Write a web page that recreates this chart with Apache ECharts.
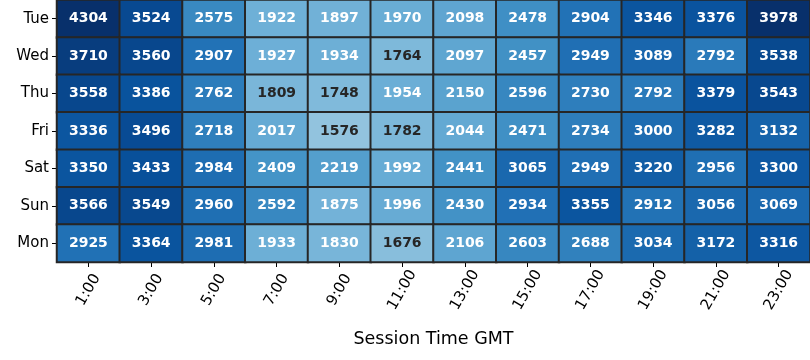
<!DOCTYPE html>
<html><head><meta charset="utf-8">
<script src="https://cdn.jsdelivr.net/npm/echarts@6/dist/echarts.min.js"></script>
<style>html,body{margin:0;padding:0;background:#fff}#c{width:810px;height:360px}</style>
</head><body><div id="c"></div>
<script>
const hours = ["1:00","3:00","5:00","7:00","9:00","11:00","13:00","15:00","17:00","19:00","21:00","23:00"];
const days = ["Tue","Wed","Thu","Fri","Sat","Sun","Mon"];
const tue = [4304,3524,2575,1922,1897,1970,2098,2478,2904,3346,3376,3978];
const wed = [3710,3560,2907,1927,1934,1764,2097,2457,2949,3089,2792,3538];
const thu = [3558,3386,2762,1809,1748,1954,2150,2596,2730,2792,3379,3543];
const fri = [3336,3496,2718,2017,1576,1782,2044,2471,2734,3000,3282,3132];
const sat = [3350,3433,2984,2409,2219,1992,2441,3065,2949,3220,2956,3300];
const sun = [3566,3549,2960,2592,1875,1996,2430,2934,3355,2912,3056,3069];
const mon = [2925,3364,2981,1933,1830,1676,2106,2603,2688,3034,3172,3316];
const rows = [tue,wed,thu,fri,sat,sun,mon];
const data = [];
rows.forEach((r,yi)=>r.forEach((v,xi)=>{
  data.push({value:[xi,yi,v],label:{color: v<1820 ? '#262626' : '#ffffff'}});
}));
const chart = echarts.init(document.getElementById('c'));
chart.setOption({
  animation:false,
  grid:{left:57,right:0,top:0,bottom:98},
  xAxis:{type:'category',data:hours,name:'Session Time GMT',nameLocation:'middle',nameGap:68,
    nameTextStyle:{fontFamily:'DejaVu Sans',fontSize:17.5,color:'#000'},
    axisLine:{show:false},axisTick:{show:true,alignWithLabel:true,length:5,lineStyle:{color:'#000'}},
    axisLabel:{rotate:60,align:'center',verticalAlign:'middle',fontFamily:'DejaVu Sans',fontSize:15,color:'#000',margin:28},splitArea:{show:false}},
  yAxis:{type:'category',data:days,inverse:true,
    axisLine:{show:false},axisTick:{show:true,alignWithLabel:true,length:5,lineStyle:{color:'#000'}},
    axisLabel:{fontFamily:'DejaVu Sans',fontSize:15,color:'#000',margin:8}},
  visualMap:{show:false,min:0,max:3900,dimension:2,
    inRange:{color:['#f7fbff','#deebf7','#c6dbef','#9ecae1','#6baed6','#4292c6','#2171b5','#08519c','#08306b']}},
  series:[{type:'heatmap',data:data,
    itemStyle:{borderColor:'#262626',borderWidth:2},
    label:{show:true,fontFamily:'DejaVu Sans',fontSize:14,fontWeight:'bold',formatter:p=>p.value[2]}}]
});
</script></body></html>
